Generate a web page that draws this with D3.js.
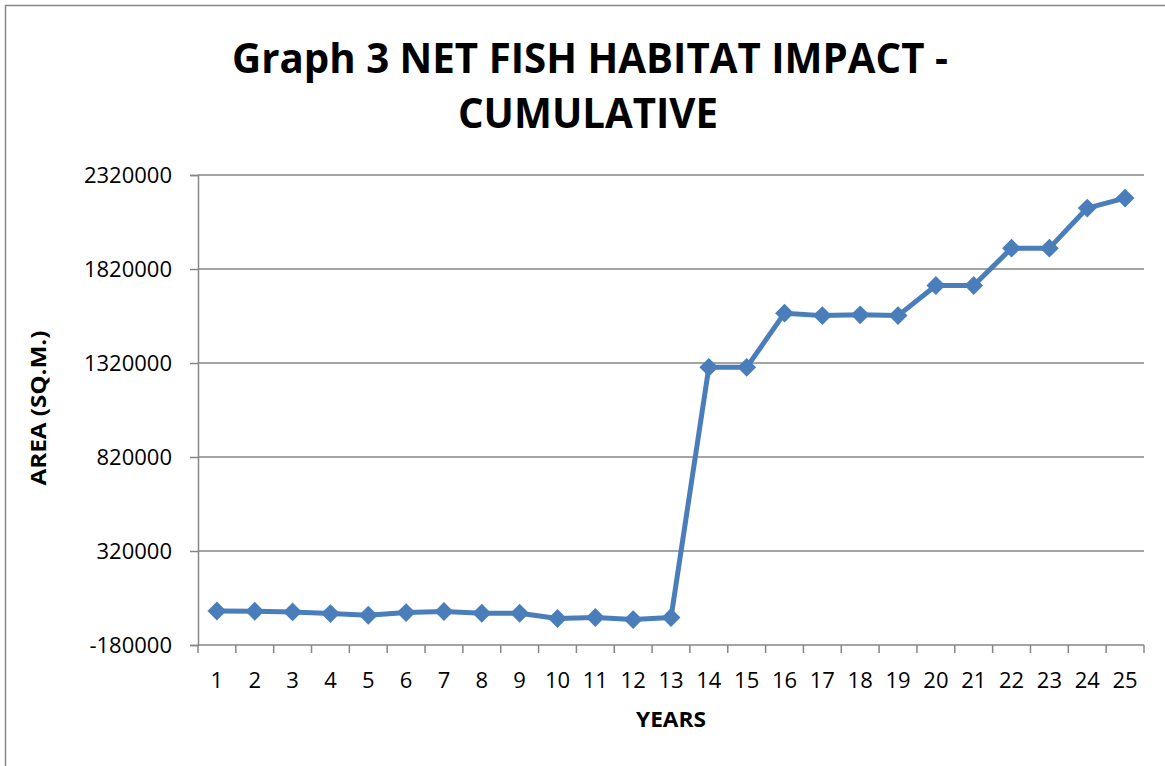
<!DOCTYPE html>
<html>
<head>
<meta charset="utf-8">
<script src="https://cdn.jsdelivr.net/npm/d3@7"></script>
<style>
  body { margin: 0; background: #fff; }
  svg text { font-family: "Open Sans", "DejaVu Sans", sans-serif; fill: #000; }
</style>
</head>
<body>
<script>
'use strict';

// years on the x axis
const years = d3.range(1, 26).map(String);

// cumulative net area, sq.m.
const area = [
  1000, -500, -4000, -13000, -22000, -7500, -2000, -11000, -11000,
  -39000, -34000, -45000, -34000,
  1297000, 1297000, 1585000, 1572000, 1576000, 1572000,
  1732000, 1732000, 1931000, 1931000, 2144000, 2197000
];

// y tick values
const yTicks = [-180000, 320000, 820000, 1320000, 1820000, 2320000];

const titleLines = ["Graph 3 NET FISH HABITAT IMPACT -", "CUMULATIVE"];

(function () {
  const width = 1165, height = 766;
  const plot = { left: 198, right: 1144, top: 175, bottom: 645 };
  const blue = "#4a7ebb";
  const grey = "#868686";

  let svg = d3.select('body')
    .append('svg')
    .attr('width', width)
    .attr('height', height);

  // outer chart border (only top and left visible in the crop)
  svg.append('rect')
    .attr('x', 5.5)
    .attr('y', 5.5)
    .attr('width', width + 20)
    .attr('height', height + 20)
    .attr('fill', 'none')
    .attr('stroke', grey)
    .attr('stroke-width', 1.5);

  let xScale = d3.scaleBand()
    .domain(years)
    .range([plot.left, plot.right]);

  let yScale = d3.scaleLinear()
    .domain([-180000, 2320000])
    .range([plot.bottom, plot.top]);

  // horizontal gridlines
  svg.append('g')
    .selectAll('line')
    .data(yTicks.slice(1))
    .enter()
    .append('line')
    .attr('x1', plot.left)
    .attr('x2', plot.right)
    .attr('y1', (d) => yScale(d))
    .attr('y2', (d) => yScale(d))
    .attr('stroke', grey)
    .attr('stroke-width', 1.5);

  // y axis (plain hyphen for negatives, like the original)
  let yAxis = d3.axisLeft(yScale)
    .tickValues(yTicks)
    .tickSize(8)
    .tickPadding(18)
    .tickFormat((d) => String(d));
  let gy = svg.append('g')
    .attr('transform', `translate(${plot.left}, 0)`)
    .call(yAxis);

  // x axis
  let xAxis = d3.axisBottom(xScale)
    .tickSize(0)
    .tickPadding(27);
  let gx = svg.append('g')
    .attr('transform', `translate(0, ${plot.bottom})`)
    .call(xAxis);

  // x tick marks sit on the band edges
  gx.selectAll('.edge')
    .data(d3.range(years.length + 1))
    .enter()
    .append('line')
    .attr('class', 'edge')
    .attr('x1', (i) => plot.left + i * xScale.step())
    .attr('x2', (i) => plot.left + i * xScale.step())
    .attr('y1', 0)
    .attr('y2', 8)
    .attr('stroke', grey)
    .attr('stroke-width', 1.5);

  [gx, gy].forEach((g) => {
    g.select('.domain').attr('stroke', grey).attr('stroke-width', 1.5);
    g.selectAll('.tick line').attr('stroke', grey).attr('stroke-width', 1.5);
    g.selectAll('.tick text')
      .style('font-size', '22px')
      .style('font-family', '"Open Sans", sans-serif')
      .attr('fill', '#000');
  });
  gx.select('.domain').attr('d', `M${plot.left},0H${plot.right}`);

  // data line
  let xMap = (d, i) => xScale(years[i]) + xScale.bandwidth() / 2;
  let line = d3.line()
    .x(xMap)
    .y((d) => yScale(d));

  svg.append('path')
    .datum(area)
    .attr('fill', 'none')
    .attr('stroke', blue)
    .attr('stroke-width', 5)
    .attr('stroke-linejoin', 'round')
    .attr('d', line);

  // diamond markers
  let diamond = d3.symbol(d3.symbolSquare, 178);
  svg.append('g')
    .selectAll('path')
    .data(area)
    .enter()
    .append('path')
    .attr('d', diamond)
    .attr('transform', (d, i) => `translate(${xMap(d, i)}, ${yScale(d)}) rotate(45)`)
    .attr('fill', blue);

  // title
  svg.append('text')
    .attr('x', 590)
    .attr('y', 73)
    .attr('text-anchor', 'middle')
    .attr('textLength', 716)
    .attr('lengthAdjust', 'spacingAndGlyphs')
    .style('font-size', '41px')
    .style('font-weight', 'bold')
    .text(titleLines[0]);

  svg.append('text')
    .attr('x', 588)
    .attr('y', 128)
    .attr('text-anchor', 'middle')
    .attr('textLength', 260)
    .attr('lengthAdjust', 'spacingAndGlyphs')
    .style('font-size', '41px')
    .style('font-weight', 'bold')
    .text(titleLines[1]);

  // axis labels
  svg.append('text')
    .attr('x', 671)
    .attr('y', 727)
    .attr('text-anchor', 'middle')
    .attr('textLength', 70)
    .attr('lengthAdjust', 'spacingAndGlyphs')
    .style('font-size', '21px')
    .style('font-weight', 'bold')
    .text('YEARS');

  svg.append('text')
    .attr('transform', 'translate(46, 408) rotate(-90)')
    .attr('text-anchor', 'middle')
    .attr('textLength', 155)
    .attr('lengthAdjust', 'spacingAndGlyphs')
    .style('font-size', '21px')
    .style('font-weight', 'bold')
    .text('AREA (SQ.M.)');
})();
</script>
</body>
</html>
